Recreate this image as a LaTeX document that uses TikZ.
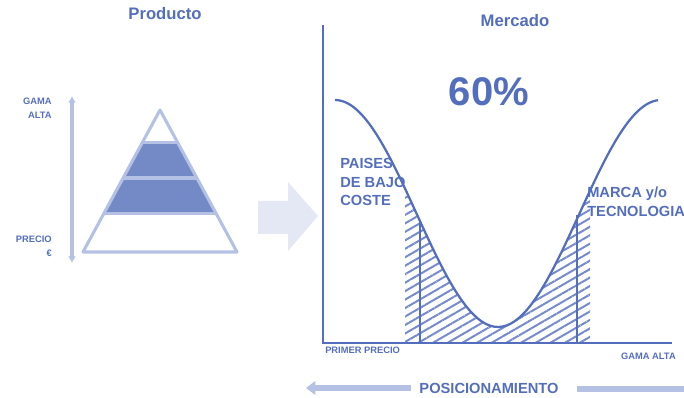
\documentclass[tikz,border=0pt]{standalone}
\usepackage{fontspec}
\setmainfont{Liberation Sans}
\usetikzlibrary{positioning, arrows.meta, calc, patterns.meta}

\definecolor{azul}{RGB}{84,110,190}
\definecolor{medio}{RGB}{116,138,198}
\definecolor{claro}{RGB}{180,192,228}
\definecolor{palido}{RGB}{228,232,244}

\tikzset{
    titulo/.style={text=azul, inner sep=0pt, font=\bfseries\fontsize{12.5}{14}\selectfont},
    etiq/.style={text=azul, inner sep=0pt, align=left, font=\bfseries\fontsize{11}{14}\selectfont},
    chica/.style={text=azul, inner sep=0pt, font=\bfseries\fontsize{7}{10}\selectfont},
    eje/.style={draw=azul, line width=2.1pt},
    curva/.style={draw=azul, line width=1.7pt},
    barra/.style={draw=claro, line width=4.5pt},
}

\begin{document}
\begin{tikzpicture}[x=0.75pt, y=-0.75pt]
    \useasboundingbox (0,0) rectangle (684,398);

    % Producto
    \node (producto) [titulo] at (165,14) {Producto};
    \coordinate (arriba) at (72,96);
    \coordinate (abajo) at (72,263);
    \draw [claro, line width=2.8pt, {Latex[length=5pt,width=6pt]}-{Latex[length=5pt,width=6pt]}] (arriba) -- (abajo);
    \node (gama) [chica, anchor=north east, align=right] at (52,98) {GAMA\\ALTA};
    \node (precio) [chica, anchor=north east, align=right] at (52,236) {PRECIO\\€};

    \coordinate (apex) at (160,110);
    \coordinate (izq) at (83,252);
    \coordinate (der) at (237,252);
    \fill [medio] ($(apex)!0.232!(izq)$) -- ($(apex)!0.232!(der)$) -- ($(apex)!0.732!(der)$) -- ($(apex)!0.732!(izq)$) -- cycle;
    \draw [claro, line width=2.3pt, line join=round] (apex) -- (der) -- (izq) -- cycle;
    \foreach \f in {0.232, 0.479, 0.732}
        \draw [claro, line width=2.3pt] ($(apex)!\f!(izq)$) -- ($(apex)!\f!(der)$);

    % flecha grande
    \fill [palido] (258,201) -- (288,201) -- (288,182) -- (318,216) -- (288,251) -- (288,234) -- (258,234) -- cycle;

    % Mercado
    \node (mercado) [titulo] at (515,21) {Mercado};
    \node (pct) [text=azul, inner sep=0pt, font=\bfseries\fontsize{30}{32}\selectfont] at (489,92) {60\%};

    \coordinate (origen) at (323,343);
    \coordinate (ytop) at (323,25);
    \coordinate (xfin) at (672,343);

    \fill [pattern={Lines[angle=30, distance=5.5pt, line width=1.5pt]}, pattern color=azul!80]
        plot [smooth, domain=405:590, samples=40] (\x, {213.5-113.5*cos(1.1043*(\x-335))})
        -- (590,343) -- (405,343) -- cycle;
    \draw [curva] plot [smooth, domain=335:658, samples=80] (\x, {213.5-113.5*cos(1.1043*(\x-335))});
    \draw [curva] (420,221) -- (420,343);
    \draw [curva] (577,215) -- (577,343);
    \draw [eje] (ytop) -- (origen) -- (xfin);

    \node (paises) [etiq, anchor=north west] at (340,158) {PAISES\\DE BAJO\\COSTE};
    \node (marca) [etiq, anchor=north west] at (587,187) {MARCA y/o\\TECNOLOGIA};

    \node (primer) [chica, anchor=west] at (325,350) {PRIMER PRECIO};
    \node (gamaalta) [chica, anchor=east] at (676,356) {GAMA ALTA};

    % Posicionamiento
    \node (pos) [titulo, font=\bfseries\fontsize{11}{13}\selectfont] at (489,388) {POSICIONAMIENTO};
    \coordinate (flechaizq) at (306,388);
    \coordinate (barder) at (684,389);
    \draw [barra, -{Triangle[length=7pt,width=10pt]}] ([xshift=-6pt]pos.west) -- (flechaizq);
    \draw [barra, line width=5pt] ([xshift=14pt]pos.east |- barder) -- (barder);
\end{tikzpicture}
\end{document}
